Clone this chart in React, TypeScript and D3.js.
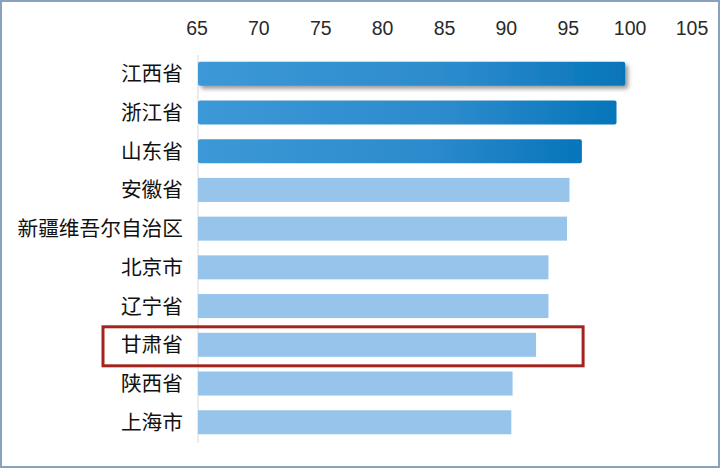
import { useEffect, useRef } from 'react';
import * as d3 from 'd3';

// provinces, top to bottom
const provinces = [
  '江西省',
  '浙江省',
  '山东省',
  '安徽省',
  '新疆维吾尔自治区',
  '北京市',
  '辽宁省',
  '甘肃省',
  '陕西省',
  '上海市',
];
const scores = [99.6, 98.9, 96.1, 95.1, 94.9, 93.4, 93.4, 92.4, 90.5, 90.4];
const xTicks = [65, 70, 75, 80, 85, 90, 95, 100, 105];
const topGroup = ['江西省', '浙江省', '山东省'];
const highlighted = '甘肃省';

export default function App() {
  const ref = useRef<SVGSVGElement>(null);

  useEffect(() => {
    const width = 720;
    const height = 469;
    const svg = d3.select(ref.current);
    svg.selectAll('*').remove();

    const data = provinces.map((name, i) => ({ name, value: scores[i] }));

    const x = d3.scaleLinear().domain([65, 105]).range([197, 692]);
    const y = d3
      .scaleBand()
      .domain(provinces)
      .range([54, 442])
      .paddingInner(0.38)
      .paddingOuter(0.2);

    const defs = svg.append('defs');
    const grad = defs
      .append('linearGradient')
      .attr('id', 'darkBar')
      .attr('x1', '0%')
      .attr('x2', '100%');
    grad.append('stop').attr('offset', '0%').attr('stop-color', '#3d98d7');
    grad.append('stop').attr('offset', '60%').attr('stop-color', '#2c8bcc');
    grad.append('stop').attr('offset', '100%').attr('stop-color', '#0675ba');

    defs
      .append('filter')
      .attr('id', 'shadow')
      .attr('x', '-5%')
      .attr('y', '-30%')
      .attr('width', '115%')
      .attr('height', '180%')
      .append('feDropShadow')
      .attr('dx', 3)
      .attr('dy', 3)
      .attr('stdDeviation', 2)
      .attr('flood-color', '#555')
      .attr('flood-opacity', 0.6);

    // background + frame
    svg
      .append('rect')
      .attr('x', 1)
      .attr('y', 1)
      .attr('width', width - 2)
      .attr('height', height - 3)
      .attr('fill', '#fff')
      .attr('stroke', '#87a2ba')
      .attr('stroke-width', 2);

    // top tick labels
    svg
      .append('g')
      .selectAll('text')
      .data(xTicks)
      .join('text')
      .attr('x', d => x(d))
      .attr('y', 35)
      .attr('text-anchor', 'middle')
      .attr('font-family', '"Liberation Sans", Arial, sans-serif')
      .attr('font-size', 19.5)
      .attr('fill', '#2a2a2a')
      .text(d => d);

    // axis line
    svg
      .append('line')
      .attr('x1', x(65) + 1)
      .attr('x2', x(65) + 1)
      .attr('y1', 55)
      .attr('y2', 443)
      .attr('stroke', '#d9d9d9')
      .attr('stroke-width', 1);

    // bars
    svg
      .append('g')
      .selectAll('rect')
      .data(data)
      .join('rect')
      .attr('x', x(65) + 1)
      .attr('y', d => y(d.name)!)
      .attr('width', d => x(d.value) - x(65) - 1)
      .attr('height', y.bandwidth())
      .attr('rx', d => (topGroup.includes(d.name) ? 2 : 0))
      .attr('fill', d => (topGroup.includes(d.name) ? 'url(#darkBar)' : '#96c4ea'))
      .attr('filter', (d, i) => (i === 0 ? 'url(#shadow)' : null));

    // category labels
    svg
      .append('g')
      .selectAll('text')
      .data(data)
      .join('text')
      .attr('x', 183)
      .attr('y', d => y(d.name)! + y.bandwidth() / 2)
      .attr('dy', '0.36em')
      .attr('text-anchor', 'end')
      .attr('font-family', '"Noto Sans CJK SC", sans-serif')
      .attr('font-size', 20.7)
      .attr('fill', '#111')
      .text(d => d.name);

    // highlight box
    const hy = y(highlighted)!;
    svg
      .append('rect')
      .attr('x', 103)
      .attr('y', hy - 6)
      .attr('width', x(96.2) - 103)
      .attr('height', y.bandwidth() + 15)
      .attr('fill', 'none')
      .attr('stroke', '#a3241c')
      .attr('stroke-width', 3);
  }, []);

  return (
    <svg
      ref={ref}
      width={720}
      height={469}
      style={{ position: 'absolute', left: 0, top: 0, display: 'block' }}
    />
  );
}
